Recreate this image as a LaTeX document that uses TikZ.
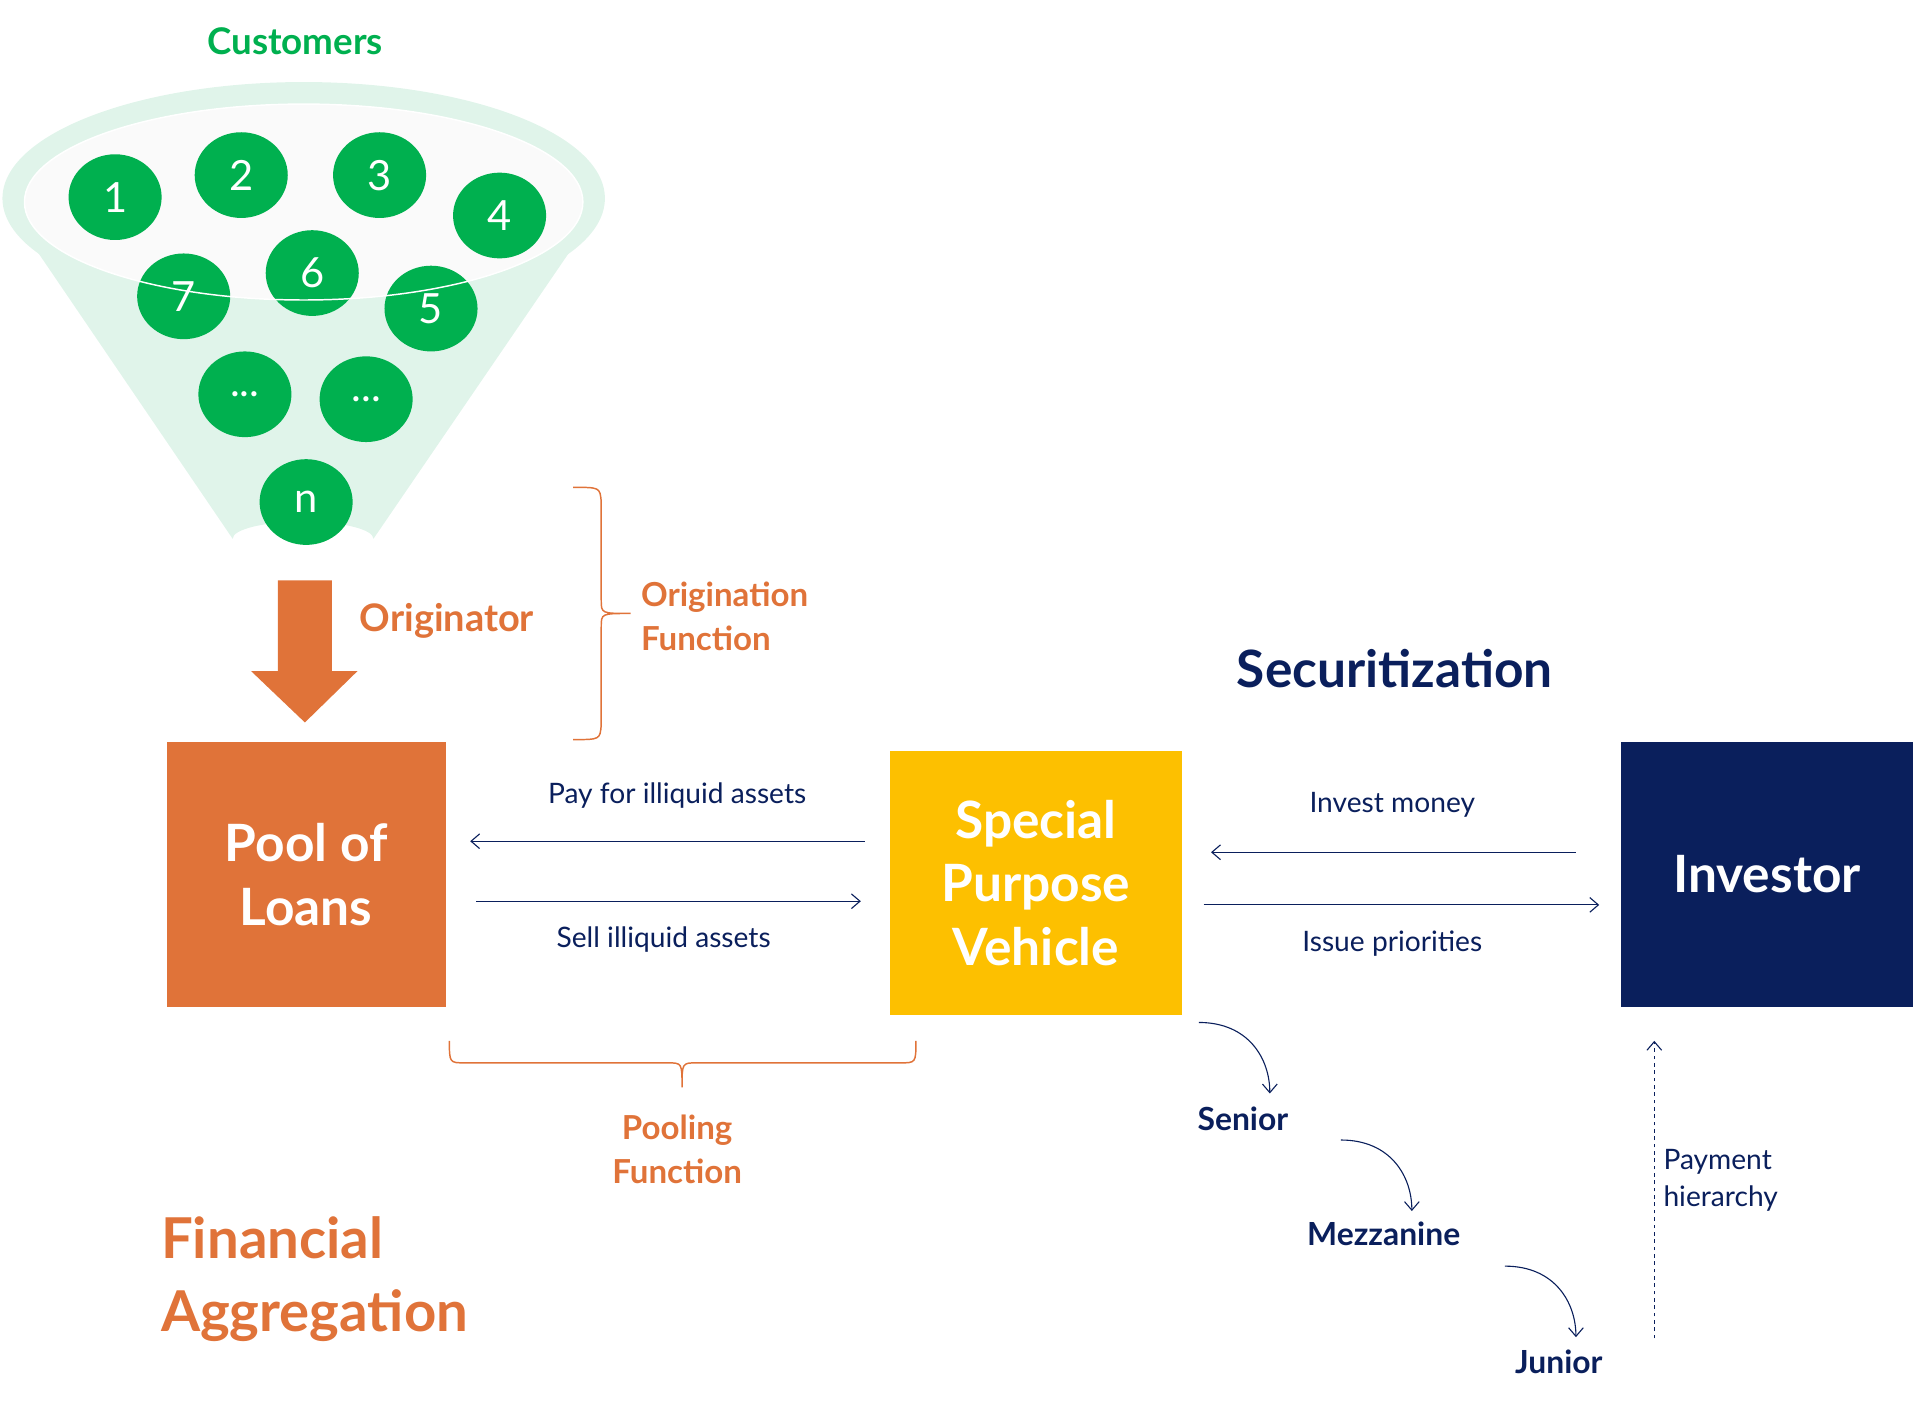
\documentclass[tikz,border=0pt]{standalone}
\usepackage{fontspec}
\setmainfont{Lato}
\usetikzlibrary{arrows.meta}
\definecolor{cgreen}{HTML}{00B04F}
\definecolor{lgreen}{HTML}{E0F4EA}
\definecolor{corange}{HTML}{E07339}
\definecolor{cyellow}{HTML}{FDC000}
\definecolor{cnavy}{HTML}{0A1F5C}
\tikzset{
 cust/.style={ellipse,fill=cgreen,minimum width=76pt,minimum height=70pt,inner sep=0pt,text=white,font=\fontsize{34}{34}\selectfont},
 bigbox/.style={minimum width=228pt,minimum height=216pt,text=white,font=\bfseries\fontsize{42}{52}\selectfont,align=center,inner sep=0pt},
 lbl/.style={text=cnavy,font=\fontsize{23}{30}\selectfont,align=left},
 olbl/.style={text=corange,font=\bfseries\fontsize{27}{36}\selectfont,align=left},
 tier/.style={text=cnavy,font=\bfseries\fontsize{26}{30}\selectfont},
 thin/.style={cnavy,line width=0.9pt,-{Straight Barb[length=7pt,width=12pt]}},
}
\usetikzlibrary{shapes.geometric}
\begin{document}
\begin{tikzpicture}[x=1pt,y=-1pt]
\useasboundingbox (0,0) rectangle (1568,1147);
% funnel
\fill[lgreen] (3,165) -- (190,440) arc[start angle=180,end angle=360,x radius=57.5,y radius=14] -- (493,165) -- cycle;
\fill[lgreen] (248,162) ellipse[x radius=246,y radius=95];
\fill[black!2] (248,165) ellipse[x radius=228,y radius=80];
\node[text=cgreen,font=\bfseries\fontsize{30}{30}\selectfont] (cu) at (241,34) {Customers};
\node[cust] (c1) at (94,161) {1};
\node[cust] (c2) at (197,143) {2};
\node[cust] (c3) at (310,143) {3};
\node[cust] (c4) at (408,176) {4};
\node[cust] (c7) at (150,242) {7};
\node[cust] (c6) at (255,223) {6};
\node[cust] (c5) at (352,252) {5};
\node[cust] (cd1) at (200,322) {...};
\node[cust] (cd2) at (299,326) {...};
\node[cust] (cn) at (250,410) {n};
\draw[white,line width=1.2pt] (248,165) ellipse[x radius=228,y radius=80];
% orange arrow
\fill[corange] (227,474) -- (271,474) -- (271,548) -- (292,548) -- (249,590) -- (205,548) -- (227,548) -- cycle;
\node[olbl,font=\bfseries\fontsize{31}{36}\selectfont] (orig) at (365,507) {Originator};
% origination brace
\draw[corange,line width=1.2pt] (468,398) .. controls (490,398) .. (491,410) -- (491,490) .. controls (491,501) .. (515,501) .. controls (491,501) .. (491,512) -- (491,592) .. controls (490,604) .. (468,604);
\node[olbl,anchor=west] (of) at (520,503) {Origination\\Function};
% boxes
\node[bigbox,fill=corange] (pool) at (250,714) {Pool of\\Loans};
\node[bigbox,fill=cyellow,minimum width=238pt] (spv) at (846,721) {Special\\Purpose\\Vehicle};
\node[bigbox,fill=cnavy,minimum width=238pt] (inv) at (1443,714) {Investor};
\node[text=cnavy,font=\bfseries\fontsize{42}{42}\selectfont] (sec) at (1139,546) {Securitization};
% arrows
\coordinate (p1) at (706,687); \coordinate (p2) at (384,687);
\coordinate (s1) at (389,736); \coordinate (s2) at (703,736);
\coordinate (i1) at (1287,696); \coordinate (i2) at (989,696);
\coordinate (u1) at (983,739); \coordinate (u2) at (1306,739);
\draw[thin] (p1) -- (p2);
\draw[thin] (s1) -- (s2);
\draw[thin] (i1) -- (i2);
\draw[thin] (u1) -- (u2);
\node[lbl] (tpay) at (553,650) {Pay for illiquid assets};
\node[lbl] (tsell) at (542,767) {Sell illiquid assets};
\node[lbl] (tinv) at (1137,657) {Invest money};
\node[lbl] (tiss) at (1137,771) {Issue priorities};
% pooling brace
\draw[corange,line width=1.2pt] (367,850) .. controls (367,868) .. (380,868) -- (545,868) .. controls (557,868) .. (557,888) .. controls (557,868) .. (569,868) -- (735,868) .. controls (748,868) .. (748,850);
\node[olbl,align=center] (pf) at (553,939) {Pooling\\Function};
\node[olbl,font=\bfseries\fontsize{46}{60}\selectfont,anchor=north west] (fa) at (128,990) {Financial\\Aggregation};
% tiers
\node[tier] (sen) at (1015,914) {Senior};
\node[tier] (mez) at (1130,1008) {Mezzanine};
\node[tier] (jun) at (1273,1112) {Junior};
\coordinate (a1) at (979,835); \coordinate (a2) at (1037,893);
\coordinate (b1) at (1095,931); \coordinate (b2) at (1153,989);
\coordinate (d1) at (1229,1034); \coordinate (d2) at (1287,1092);
\draw[thin] (a1) .. controls (1020,835) and (1037,865) .. (a2);
\draw[thin] (b1) .. controls (1136,931) and (1153,961) .. (b2);
\draw[thin] (d1) .. controls (1270,1034) and (1287,1064) .. (d2);
\coordinate (h1) at (1351,1093); \coordinate (h2) at (1351,850);
\draw[thin,dashed] (h1) -- (h2);
\node[lbl,anchor=west] (ph) at (1355,964) {Payment\\hierarchy};
\end{tikzpicture}
\end{document}
